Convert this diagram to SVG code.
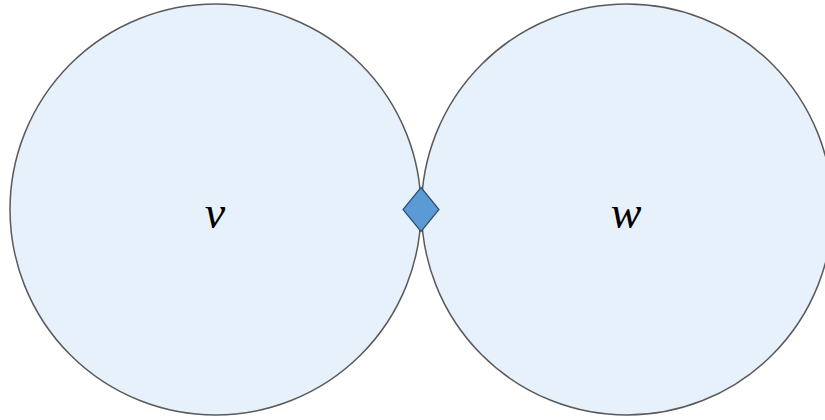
<svg xmlns="http://www.w3.org/2000/svg" width="825" height="420" viewBox="0 0 825 420">
<style>
.blob{fill:#e7f1fb;stroke:#5a5a5a;stroke-width:1.5}
.lbl{font-family:"Liberation Serif","DejaVu Serif",serif;font-style:italic;font-size:46px;fill:#000;text-anchor:middle}
.cut{fill:#5b9bd5;stroke:#2f4f6f;stroke-width:1.2}
</style>
<rect width="825" height="420" fill="#ffffff"/>
<g id="node-v">
<circle class="blob" cx="215.5" cy="209.5" r="205.5"/>
<text class="lbl" x="215" y="228">v</text>
</g>
<g id="node-w">
<circle class="blob" cx="627" cy="209.5" r="205.5"/>
<text class="lbl" x="626" y="228">w</text>
</g>
<g id="connectors"></g>
<g id="node-cut">
<polygon class="cut" points="421,187.5 439,209.5 421,231.5 403,209.5"/>
</g>
</svg>
